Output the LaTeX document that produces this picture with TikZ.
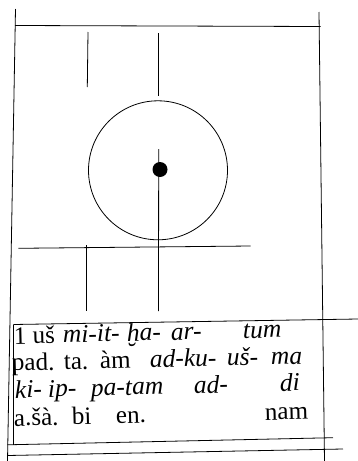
\documentclass[tikz,border=0pt]{standalone}
\usepackage{fontspec}
\setmainfont{Liberation Serif}
\begin{document}
\begin{tikzpicture}[x=1pt,y=-1pt,
  ln/.style={line width=0.8pt},
  up/.style={anchor=base west,inner sep=0pt,rotate=1.4,font=\fontsize{25}{25}\selectfont},
  it/.style={up,font=\fontsize{25.5}{25.5}\selectfont\itshape}]
\useasboundingbox (0,0) rectangle (358,461);
% frame
\coordinate (olt) at (15.5,9);
\coordinate (olb) at (7.5,461);
\coordinate (ort) at (319,12);
\coordinate (orb) at (324.5,461);
\draw[ln] (olt) -- (olb);
\draw[ln] (ort) -- (orb);
\coordinate (tl) at (15,25.5);
\coordinate (tr) at (320.5,26.5);
\draw[ln] (tl) -- (tr);
% short verticals
\coordinate (a1) at (88,32); \coordinate (a2) at (87.3,87);
\draw[ln] (a1) -- (a2);
\coordinate (b1) at (158.7,33); \coordinate (b2) at (158.7,95.5);
\draw[ln] (b1) -- (b2);
% circle and dot
\node[draw,circle,line width=0.8pt,minimum size=139pt,inner sep=0pt] (circ) at (158,170.3) {};
\node[fill,circle,minimum size=15pt,inner sep=0pt] (dot) at (160,169.5) {};
\coordinate (c1) at (158.7,149); \coordinate (c2) at (158.5,311);
\draw[ln] (c1) -- (c2);
% horizontal line
\coordinate (h1) at (18.3,248.3); \coordinate (h2) at (250.7,246);
\draw[ln] (h1) -- (h2);
\coordinate (d1) at (86,245); \coordinate (d2) at (86,311);
\draw[ln] (d1) -- (d2);
% text box
\coordinate (t1) at (13.3,324.5); \coordinate (t2) at (358,319);
\draw[ln] (t1) -- (t2);
\coordinate (i1) at (13.3,324.5); \coordinate (i2) at (13.3,445);
\draw[ln] (i1) -- (i2);
\coordinate (u1) at (7.5,444.8); \coordinate (u2) at (333,437.7);
\draw[ln] (u1) -- (u2);
\coordinate (w1) at (7.5,455.5); \coordinate (w2) at (343,449);
\draw[ln] (w1) -- (w2);
% text (baseline y = base - 0.025*(x-13))
\node[up] (l1a) at (14,344) {1 uš};
\node[it] (l1b) at (63,342.8) {mi-it-};
\node[it] (l1c) at (127,341.2) {ḫa-};
\node[it] (l1d) at (171,340) {ar-};
\node[it] (l1e) at (243,338.3) {tum};
\node[up] (l2a) at (12,371) {pad.};
\node[up] (l2b) at (64,369.7) {ta.};
\node[up] (l2c) at (100,368.8) {àm};
\node[it] (l2d) at (150,367.6) {ad-ku-};
\node[it] (l2e) at (227,365.7) {uš-};
\node[it] (l2f) at (271,364.6) {ma};
\node[it] (l3a) at (15,398) {ki-};
\node[it] (l3b) at (48,397.1) {ip-};
\node[it] (l3c) at (91,396) {pa-tam};
\node[it] (l3d) at (194,393.4) {ad-};
\node[it] (l3e) at (280,391.3) {di};
\node[up] (l4a) at (14,426) {a.šà.};
\node[up] (l4b) at (72,424.4) {bi};
\node[up] (l4c) at (116,423.4) {en.};
\node[up] (l4d) at (265,420.2) {nam};
\end{tikzpicture}
\end{document}
